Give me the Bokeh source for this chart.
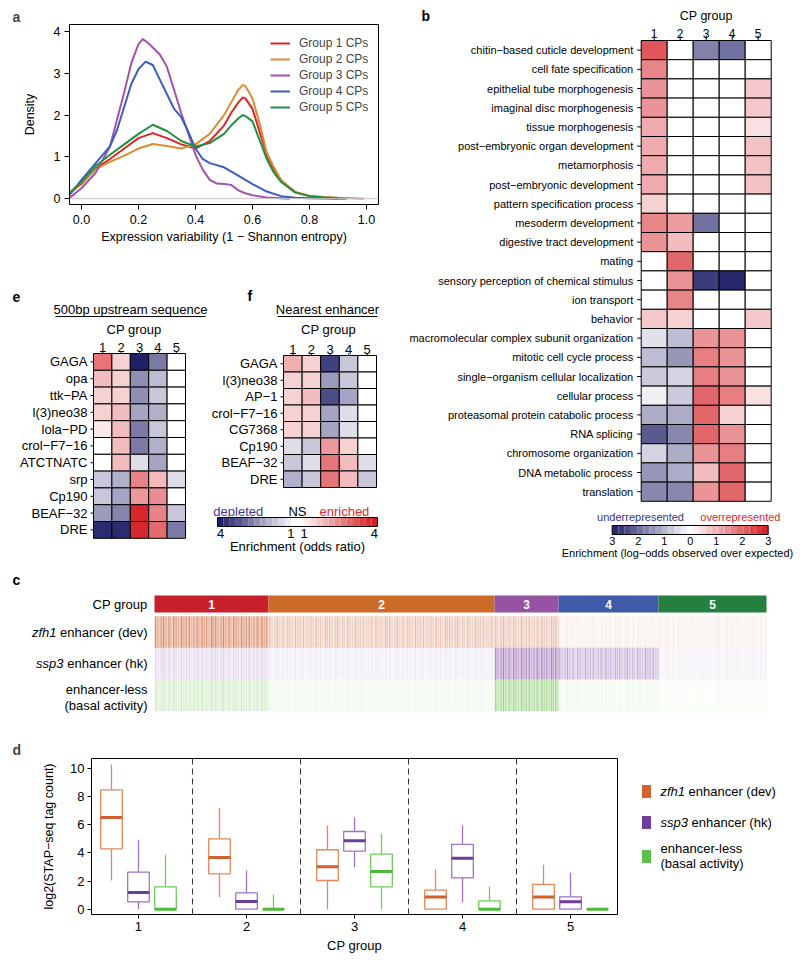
import numpy as np
from bokeh.plotting import figure
from bokeh.models import (Range1d, FixedTicker, Span, Legend, LegendItem, ColumnDataSource)
from bokeh.layouts import row, column
from bokeh.embed import file_html
from bokeh.resources import INLINE
from bokeh.core.properties import value
from bokeh.transform import linear_cmap

FONT = "Liberation Sans"

# ====================== DATA ======================
# (a) density of expression variability, per CP group
g1_x = [-0.04, 0.0, 0.05, 0.1, 0.15, 0.2, 0.25, 0.3, 0.35, 0.4, 0.45, 0.5, 0.525, 0.55, 0.565, 0.575, 0.6, 0.625, 0.65, 0.675, 0.7, 0.75, 0.8, 0.85, 0.9, 0.93]
g1_y = [0.15, 0.35, 0.72, 0.95, 1.2, 1.45, 1.57, 1.45, 1.3, 1.2, 1.38, 1.75, 2.05, 2.3, 2.42, 2.4, 2.15, 1.6, 1.05, 0.7, 0.42, 0.15, 0.06, 0.03, 0.01, 0.0]
g2_x = [-0.04, 0.0, 0.05, 0.1, 0.15, 0.2, 0.25, 0.3, 0.35, 0.4, 0.45, 0.5, 0.525, 0.55, 0.565, 0.575, 0.6, 0.625, 0.65, 0.675, 0.7, 0.75, 0.8, 0.85, 0.9, 0.95, 0.99]
g2_y = [0.15, 0.38, 0.7, 0.88, 1.03, 1.2, 1.31, 1.26, 1.2, 1.3, 1.55, 2.0, 2.3, 2.6, 2.72, 2.7, 2.4, 1.8, 1.1, 0.75, 0.45, 0.16, 0.07, 0.04, 0.02, 0.01, 0.0]
g3_x = [-0.04, 0.0, 0.05, 0.1, 0.125, 0.15, 0.175, 0.2, 0.215, 0.235, 0.25, 0.275, 0.3, 0.325, 0.35, 0.375, 0.4, 0.425, 0.45, 0.475, 0.5, 0.525, 0.55, 0.575, 0.6, 0.65, 0.7, 0.73]
g3_y = [0.03, 0.25, 0.62, 1.25, 1.9, 2.55, 3.25, 3.7, 3.82, 3.72, 3.62, 3.45, 3.15, 2.6, 2.05, 1.55, 1.05, 0.7, 0.45, 0.36, 0.35, 0.33, 0.2, 0.13, 0.08, 0.03, 0.01, 0.0]
g4_x = [-0.04, 0.0, 0.05, 0.1, 0.125, 0.15, 0.175, 0.2, 0.225, 0.25, 0.275, 0.3, 0.325, 0.35, 0.375, 0.4, 0.425, 0.45, 0.5, 0.55, 0.6, 0.65, 0.7, 0.75, 0.8, 0.9]
g4_y = [0.1, 0.45, 0.85, 1.25, 1.65, 2.2, 2.75, 3.1, 3.28, 3.2, 2.85, 2.5, 2.15, 1.95, 1.6, 1.2, 0.95, 0.85, 0.75, 0.55, 0.35, 0.17, 0.06, 0.02, 0.01, 0.0]
g5_x = [-0.04, 0.0, 0.05, 0.1, 0.15, 0.2, 0.25, 0.3, 0.35, 0.4, 0.45, 0.5, 0.525, 0.55, 0.565, 0.575, 0.6, 0.625, 0.65, 0.675, 0.7, 0.75, 0.8, 0.85, 0.9, 0.92]
g5_y = [0.15, 0.4, 0.78, 1.05, 1.3, 1.55, 1.77, 1.62, 1.38, 1.25, 1.33, 1.55, 1.75, 1.92, 2.0, 1.98, 1.85, 1.4, 0.95, 0.62, 0.4, 0.15, 0.06, 0.03, 0.01, 0.0]
a_labels = ["Group 1 CPs", "Group 2 CPs", "Group 3 CPs", "Group 4 CPs", "Group 5 CPs"]
a_colors = ["#DF2426", "#DB8B34", "#A453AC", "#3C5DBD", "#22903F"]
a_xticks = [0.0, 0.2, 0.4, 0.6, 0.8, 1.0]
a_xtick_labels = ["0.0", "0.2", "0.4", "0.6", "0.8", "1.0"]
a_yticks = [0, 1, 2, 3, 4]

cp_labels = ["1", "2", "3", "4", "5"]

# (b) GO enrichment, log-odds observed over expected
b_terms = ["chitin\u2212based cuticle development", "cell fate specification",
           "epithelial tube morphogenesis", "imaginal disc morphogenesis",
           "tissue morphogenesis", "post\u2212embryonic organ development", "metamorphosis",
           "post\u2212embryonic development", "pattern specification process",
           "mesoderm development", "digestive tract development", "mating",
           "sensory perception of chemical stimulus", "ion transport", "behavior",
           "macromolecular complex subunit organization", "mitotic cell cycle process",
           "single\u2212organism cellular localization", "cellular process",
           "proteasomal protein catabolic process", "RNA splicing",
           "chromosome organization", "DNA metabolic process", "translation"]
b_g1 = [2.2, 1.6, 1.4, 1.4, 1.1, 1.1, 1.1, 1.1, 0.6, 1.6, 1.4, 0, 0, 0, 0.7, -0.4, -0.9, -0.7, -0.2, -1.1, -2.2, -0.6, -1.4, -1.6]
b_g2 = [0, 0, 0, 0, 0, 0, 0, 0, 0, 1.3, 0.9, 2.0, 1.4, 1.6, 0.6, -0.9, -1.4, -0.6, -0.7, -1.1, -1.6, -1.1, -1.1, -1.6]
b_g3 = [-1.7, 0, 0, 0, 0, 0, 0, 0, 0, -1.9, 0, 0, -2.6, 0, 0, 1.4, 1.7, 1.7, 2.0, 2.0, 2.0, 1.4, 0.9, 1.4]
b_g4 = [-1.9, 0, 0, 0, 0, 0, 0, 0, 0, 0, 0, 0, -2.9, 0, 0, 1.4, 1.4, 1.4, 1.7, 0.6, 1.4, 1.7, 2.0, 2.0]
b_g5 = [0, 0, 0.7, 0.7, 0.4, 0.8, 0.8, 0.8, 0, 0, 0, 0, 0, 0, 0.7, 0, 0, 0, 0.4, 0, 0, 0, 0, 0]
b_cb_ticks = [-3, -2, -1, 0, 1, 2, 3]
b_cb_labels = ["3", "2", "1", "0", "1", "2", "3"]

# (e) motif enrichment, 500bp upstream (log2 odds ratio)
e_motifs = ["GAGA", "opa", "ttk\u2212PA", "l(3)neo38", "lola\u2212PD", "crol\u2212F7\u221216",
            "ATCTNATC", "srp", "Cp190", "BEAF\u221232", "DRE"]
e_g1 = [1.2, 0.6, 0.4, 0.4, 0.2, 0, 0, -0.5, -0.5, -0.9, -1.9]
e_g2 = [0.4, 0.4, 0.4, 0.6, 0.6, 0.6, 0.6, -0.7, -0.8, -1.1, -1.9]
e_g3 = [-2.0, -1.0, -1.0, -0.8, -1.2, -1.2, -0.3, 1.1, 0.9, 1.9, 1.9]
e_g4 = [-1.2, -0.6, -0.5, -0.7, -0.5, -0.7, -0.8, 0.6, 1.0, 1.1, 1.3]
e_g5 = [0, 0, 0, 0, 0, 0, 0, -0.3, 0, -0.5, -1.2]

# (f) motif enrichment, nearest enhancer (log2 odds ratio)
f_motifs = ["GAGA", "l(3)neo38", "AP\u22121", "crol\u2212F7\u221216", "CG7368", "Cp190", "BEAF\u221232", "DRE"]
f_g1 = [0.7, 0.4, 0.4, 0.4, 0.4, -0.3, -0.5, -0.7]
f_g2 = [0.4, 0.4, 0.6, 0.4, 0.4, -0.5, -0.3, -0.5]
f_g3 = [-1.7, -0.9, -1.6, -0.8, -0.8, 0.9, 1.2, 1.2]
f_g4 = [-0.5, -0.5, -0.8, -0.3, -0.3, 0.4, 0.6, 0.6]
f_g5 = [0, 0, 0, 0, 0, 0, -0.3, -0.5]
f_cb_ticks = [-1.0, -0.085, 0.085, 1.0]
f_cb_labels = ["4", "1", "1", "4"]

# (c) CP groups and reporter activity levels
c_group_sizes = [570, 1130, 320, 500, 540]
c_group_colors = ["#C8202A", "#CC6A28", "#9653A3", "#3F5BA9", "#23803F"]
c_zfh1_level = [0.7, 0.35, 0.35, 0.1, 0.1]
c_ssp3_level = [0.2, 0.1, 0.65, 0.42, 0.08]
c_basal_level = [0.25, 0.08, 0.55, 0.08, 0.04]
c_stripe_pos = [0.02, 0.06, 0.11, 0.15, 0.19, 0.24, 0.27, 0.32, 0.36, 0.40, 0.45, 0.49,
                0.53, 0.58, 0.62, 0.66, 0.71, 0.74, 0.79, 0.83, 0.87, 0.91, 0.95, 0.98]
c_stripe_str = [0.9, 0.4, 0.7, 1.0, 0.5, 0.8, 0.3, 0.9, 0.6, 0.4, 1.0, 0.5,
                0.7, 0.9, 0.3, 0.6, 0.8, 0.4, 1.0, 0.5, 0.7, 0.3, 0.9, 0.6]

# (d) log2(STAP-seq tag count) box statistics per CP group
zfh1_low = [2.04, 0.86, 0.0, 0.0, 0.0]
zfh1_q1 = [4.3, 2.52, 2.04, 0.0, 0.0]
zfh1_med = [6.53, 3.68, 3.02, 0.86, 0.86]
zfh1_q3 = [8.5, 5.01, 4.23, 1.35, 1.76]
zfh1_high = [10.3, 7.2, 5.96, 2.85, 3.16]
ssp3_low = [0.0, 0.0, 2.99, 0.5, 0.0]
ssp3_q1 = [0.52, 0.0, 4.13, 2.23, 0.0]
ssp3_med = [1.19, 0.55, 4.87, 3.63, 0.52]
ssp3_q3 = [2.64, 1.16, 5.53, 4.61, 0.88]
ssp3_high = [4.94, 2.76, 6.53, 5.96, 2.59]
basal_low = [0.0, 0.0, 0.0, 0.0, 0.0]
basal_q1 = [0.0, 0.0, 1.59, 0.0, 0.0]
basal_med = [0.0, 0.0, 2.68, 0.0, 0.0]
basal_q3 = [1.59, 0.0, 3.92, 0.59, 0.0]
basal_high = [3.87, 1.05, 5.37, 1.59, 0.0]
d_groups = [1, 2, 3, 4, 5]
d_yticks = [0, 2, 4, 6, 8, 10]
d_italic = ["zfh1", "ssp3", ""]
d_text = ["enhancer (dev)", "enhancer (hk)", "enhancer-less"]
d_line_colors = ["#E4875C", "#9C74C6", "#6CCB58"]
d_med_colors = ["#D0612E", "#6A3D9C", "#4DB83A"]
d_key_colors = ["#D4622F", "#6F3F9E", "#5DBE4A"]


# ====================== HELPERS ======================
def ramp(n):
    lo = (32, 32, 105)
    mid = (255, 255, 255)
    hi = (212, 28, 34)
    out = []
    for i in range(n):
        t = 2.0 * i / (n - 1) - 1.0
        end = lo if t < 0 else hi
        a = abs(t)
        out.append("#%02x%02x%02x" % tuple(int(round(mid[k] + (end[k] - mid[k]) * a)) for k in range(3)))
    return out


PAL = ramp(255)


def px_ranges(fx0, fy0, w, h, x_ref_px, x_ref_val, sx, y_ref_px, y_ref_val, sy, y_down=True):
    xr = Range1d(x_ref_val + (fx0 - x_ref_px) / sx, x_ref_val + (fx0 + w - x_ref_px) / sx)
    if y_down:
        yr = Range1d(y_ref_val + (fy0 + h - y_ref_px) / sy, y_ref_val + (fy0 - y_ref_px) / sy)
    else:
        yr = Range1d(y_ref_val - (fy0 + h - y_ref_px) / sy, y_ref_val - (fy0 - y_ref_px) / sy)
    return xr, yr


def canvas(w, h, xr, yr, **borders):
    opts = dict(min_border=0)
    opts.update(borders)
    p = figure(width=w, height=h, x_range=xr, y_range=yr, output_backend="svg",
               toolbar_location=None, x_axis_location=None, y_axis_location=None, **opts)
    p.outline_line_color = None
    p.xgrid.visible = False
    p.ygrid.visible = False
    return p


def style_axis(ax, size="13px", tick_out=4, standoff=3, label_size=None, label_standoff=5):
    ax.major_label_text_font = FONT
    ax.major_label_text_font_size = size
    ax.major_label_text_color = "black"
    ax.major_tick_out = tick_out
    ax.major_tick_in = 0
    ax.minor_tick_out = 0
    ax.minor_tick_in = 0
    ax.major_label_standoff = standoff
    ax.axis_label_text_font = FONT
    ax.axis_label_text_font_size = label_size or size
    ax.axis_label_text_font_style = "normal"
    ax.axis_label_text_color = "black"
    ax.axis_label_standoff = label_standoff
    ax.axis_line_color = None
    ax.major_tick_line_color = "black"


def heat_cells(p, cols, low, high, **kw):
    xs, ys, vs = [], [], []
    for ci, vals in enumerate(cols):
        for ri, v in enumerate(vals):
            xs.append(ci + 1)
            ys.append(ri)
            vs.append(v)
    src = ColumnDataSource(dict(x=xs, y=ys, v=vs))
    p.rect(x="x", y="y", width=1, height=1, source=src,
           fill_color=linear_cmap("v", PAL, low, high), line_color="black", line_width=1, **kw)


def txt(p, x, y, text, size="13px", align="center", baseline="middle", color="black",
        style="normal", **kw):
    p.text(x=x, y=y, text=text, text_font=value(FONT), text_font_size=size,
           text_align=align, text_baseline=baseline, text_color=color,
           text_font_style=style, **kw)


def heat_labels(p, names, sx, sy, size, tick_len_x, tick_len_y, lab_off, col_off, col_size):
    n = len(names)
    txt(p, [0.5] * n, list(range(n)), names, size=size, align="right", x_offset=lab_off)
    p.segment(x0=[0.5 - tick_len_x / sx] * n, y0=list(range(n)), x1=[0.5] * n,
              y1=list(range(n)), line_color="black", line_width=1)
    txt(p, [1, 2, 3, 4, 5], [-0.5] * 5, cp_labels, size=col_size, baseline="bottom",
        y_offset=col_off)
    p.segment(x0=[1, 2, 3, 4, 5], y0=[-0.5 - tick_len_y / sy] * 5, x1=[1, 2, 3, 4, 5],
              y1=[-0.5] * 5, line_color="black", line_width=1)


# ====================== PANEL a ======================
pa = figure(width=408, height=258, x_range=Range1d(-0.042, 1.042), y_range=Range1d(-0.14, 4.17),
            min_border_left=69, min_border_right=30, min_border_top=24, min_border_bottom=54,
            output_backend="svg", toolbar_location=None)
pa.xgrid.visible = False
pa.ygrid.visible = False
pa.outline_line_color = "black"
pa.xaxis.ticker = FixedTicker(ticks=a_xticks)
pa.xaxis.major_label_overrides = {t: s for t, s in zip(a_xticks, a_xtick_labels)}
pa.yaxis.ticker = FixedTicker(ticks=a_yticks)
pa.xaxis.axis_label = "Expression variability (1 \u2212 Shannon entropy)"
pa.yaxis.axis_label = "Density"
for ax in pa.xaxis:
    style_axis(ax, "12.5px", tick_out=5, standoff=5, label_standoff=3)
for ax in pa.yaxis:
    style_axis(ax, "12.5px", tick_out=5, standoff=4, label_standoff=14)
pa.add_layout(Span(location=0, dimension="width", line_color="#c4c4c4", line_width=1))
items = []
for xs_, ys_, c, lab in zip([g1_x, g2_x, g3_x, g4_x, g5_x], [g1_y, g2_y, g3_y, g4_y, g5_y],
                            a_colors, a_labels):
    r = pa.line(xs_, ys_, line_color=c, line_width=2, line_join="round")
    items.append(LegendItem(label=lab, renderers=[r]))
leg = Legend(items=items, location=(201, 89), margin=0, padding=7, spacing=0,
             label_height=16, glyph_height=16, glyph_width=20, label_standoff=9,
             label_width=72, label_text_font=FONT, label_text_font_size="12px",
             border_line_color=None, background_fill_alpha=0)
pa.add_layout(leg)
pa.title.text = "a"
pa.title.align = "left"
pa.title.offset = -57
pa.title.standoff = 0
pa.title.text_font = FONT
pa.title.text_font_size = "14px"
pa.title.text_font_style = "bold"

# ====================== PANEL b (with its colour key) ======================
xr, yr = px_ranges(408, 0, 392, 560, 640.7, 0.5, 26.0, 40, -0.5, 19.2)
pb = canvas(392, 560, xr, yr)
heat_cells(pb, [b_g1, b_g2, b_g3, b_g4, b_g5], -3, 3)
heat_labels(pb, b_terms, 26.0, 19.2, "11px", 4, 5, -8, -3, "12px")
txt(pb, [3.0], [-1.8], ["CP group"], size="12.5px")
txt(pb, [-7.95], [-1.8], ["b"], size="14px", align="left", style="bold")
bxr, byr = px_ranges(408, 0, 392, 560, 689.7, 0.0, 26.0, 534, 0.0, 9.0, y_down=False)
pb.extra_x_ranges = {"cbx": bxr}
pb.extra_y_ranges = {"cby": byr}
kw = dict(x_range_name="cbx", y_range_name="cby")
nsteps = 25
stp = 6.0 / nsteps
cbx = [-3 + (i + 0.5) * stp for i in range(nsteps)]
src_b = ColumnDataSource(dict(x=cbx, y=[0.5] * nsteps, v=cbx))
pb.rect(x="x", y="y", width=stp, height=1, source=src_b,
        fill_color=linear_cmap("v", PAL, -3, 3), line_color=None, **kw)
pb.rect(x=0, y=0.5, width=6, height=1, fill_color=None, line_color="black", line_width=1, **kw)
txt(pb, [-1.91], [1.89], ["underrepresented"], size="11px", color="#34348E", **kw)
txt(pb, [1.93], [1.89], ["overrepresented"], size="11px", color="#E3262E", **kw)
txt(pb, b_cb_ticks, [-0.7] * len(b_cb_ticks), b_cb_labels, size="11px", **kw)
txt(pb, [-0.49], [-2.0], ["Enrichment (log\u2212odds observed over expected)"], size="11px", **kw)

# ====================== PANEL e ======================
xr, yr = px_ranges(0, 258, 208, 302, 93, 0.5, 18.4, 353, -0.5, 16.8)
pe = canvas(208, 302, xr, yr)
heat_cells(pe, [e_g1, e_g2, e_g3, e_g4, e_g5], -2, 2)
heat_labels(pe, e_motifs, 18.4, 16.8, "13px", 3, 2, -6, -2, "13px")
txt(pe, [2.7], [-1.93], ["CP group"])
txt(pe, [2.51], [-3.12], ["500bp upstream sequence"])
pe.segment(x0=[-1.565], y0=[-2.70], x1=[6.587], y1=[-2.70], line_color="black", line_width=1)
txt(pe, [-3.9], [-3.89], ["e"], size="14px", align="left", style="bold")

# ====================== PANEL f (with the e/f colour key) ======================
xr, yr = px_ranges(208, 258, 200, 302, 283, 0.5, 18.6, 355, -0.5, 16.5)
pf = canvas(200, 302, xr, yr)
heat_cells(pf, [f_g1, f_g2, f_g3, f_g4, f_g5], -2, 2)
heat_labels(pf, f_motifs, 18.6, 16.5, "13px", 3, 2, -6, -2, "13px")
txt(pf, [2.92], [-2.076], ["CP group"])
txt(pf, [2.866], [-3.288], ["Nearest enhancer"])
pf.segment(x0=[0.177], y0=[-2.864], x1=[5.554], y1=[-2.864], line_color="black", line_width=1)
txt(pf, [-1.435], [-4.076], ["f"], size="14px", align="left", style="bold")
cxr, cyr = px_ranges(208, 258, 200, 302, 297, 0.0, 76.9, 526, 0.0, 9.0, y_down=False)
pf.extra_x_ranges = {"cbx": cxr}
pf.extra_y_ranges = {"cby": cyr}
nside = 12
w_side = (1.04 - 0.085) / nside
cb_u, cb_v = [], []
for i in range(nside):
    cb_u.append(-1.04 + (i + 0.5) * w_side)
    cb_v.append(-2.0 * (1 - i / nside))
    cb_u.append(1.04 - (i + 0.5) * w_side)
    cb_v.append(2.0 * (1 - i / nside))
src_cb = ColumnDataSource(dict(x=cb_u, y=[0.5] * len(cb_u), v=cb_v))
pf.rect(x="x", y="y", width=w_side, height=1, source=src_cb,
        fill_color=linear_cmap("v", PAL, -2, 2), line_color=None, **kw)
pf.rect(x=0, y=0.5, width=2.08, height=1, fill_color=None, line_color="black", line_width=1, **kw)
txt(pf, [-0.77], [1.67], ["depleted"], color="#3A3A96", **kw)
txt(pf, [0.0], [1.67], ["NS"], **kw)
txt(pf, [0.61], [1.67], ["enriched"], color="#E3262F", **kw)
txt(pf, f_cb_ticks, [-0.8] * 4, f_cb_labels, **kw)
txt(pf, [0.0], [-2.22], ["Enrichment (odds ratio)"], **kw)

# ====================== PANEL c ======================
ntot = sum(c_group_sizes)
sc = 612.0 / ntot
xr, yr = px_ranges(0, 560, 800, 160, 154, 0.0, sc, 631.5, 0.0, 31.7)
pc = canvas(800, 160, xr, yr)
starts = [sum(c_group_sizes[:i]) for i in range(5)]
centers = [s + n / 2 for s, n in zip(starts, c_group_sizes)]
pc.rect(x=centers, y=-0.883, width=c_group_sizes, height=0.536, fill_color=c_group_colors,
        line_color=None)
txt(pc, centers, [-0.883] * 5, cp_labels, size="12px", color="white", style="bold")
row_cols = ["#D2693C", "#8E5AAE", "#6CBF4A"]
tile = 300
for ri, (levels, col) in enumerate(zip([c_zfh1_level, c_ssp3_level, c_basal_level], row_cols)):
    pc.rect(x=centers, y=ri, width=c_group_sizes, height=1, fill_color=col,
            fill_alpha=[lv * 0.45 for lv in levels], line_color=None)
    sx_, sa_ = [], []
    for g in range(5):
        k = 0
        while k * tile < c_group_sizes[g]:
            for fpos, fstr in zip(c_stripe_pos, c_stripe_str):
                xx = starts[g] + k * tile + fpos * tile
                if xx < starts[g] + c_group_sizes[g]:
                    sx_.append(xx)
                    sa_.append(min(1.0, levels[g] * fstr))
            k += 1
    pc.vbar(x=sx_, width=1.2 / sc, bottom=ri - 0.5, top=ri + 0.5, fill_color=col,
            fill_alpha=sa_, line_color=None)
lx = -7 / sc
txt(pc, [lx], [-0.883], ["CP group"], align="right")
txt(pc, [lx], [0], ["enhancer (dev)"], align="right")
txt(pc, [lx], [0], ["zfh1"], align="right", style="italic", x_offset=-91)
txt(pc, [lx], [1], ["enhancer (hk)"], align="right")
txt(pc, [lx], [1], ["ssp3"], align="right", style="italic", x_offset=-84)
txt(pc, [lx], [1.81], ["enhancer-less"], align="right")
txt(pc, [lx], [2.32], ["(basal activity)"], align="right")
txt(pc, [-142 / sc], [-1.625], ["c"], size="14px", align="left", style="bold")

# ====================== PANEL d ======================
pd_ = figure(width=638, height=243, x_range=Range1d(0.565, 5.435), y_range=Range1d(-0.38, 10.73),
             min_border_left=91, min_border_right=21, min_border_top=38, min_border_bottom=49,
             output_backend="svg", toolbar_location=None)
pd_.xgrid.visible = False
pd_.ygrid.visible = False
pd_.outline_line_color = "black"
pd_.xaxis.ticker = FixedTicker(ticks=d_groups)
pd_.yaxis.ticker = FixedTicker(ticks=d_yticks)
pd_.xaxis.axis_label = "CP group"
pd_.yaxis.axis_label = "log2(STAP\u2212seq tag count)"
for ax in pd_.xaxis:
    style_axis(ax, "13px", tick_out=4, standoff=3, label_standoff=4)
for ax in pd_.yaxis:
    style_axis(ax, "13px", tick_out=4, standoff=3, label_size="12.5px", label_standoff=11)
for k in range(1, 5):
    pd_.add_layout(Span(location=k + 0.5, dimension="height", line_color="#333333",
                        line_width=1, line_dash="6 4"))
series = [(zfh1_low, zfh1_q1, zfh1_med, zfh1_q3, zfh1_high),
          (ssp3_low, ssp3_q1, ssp3_med, ssp3_q3, ssp3_high),
          (basal_low, basal_q1, basal_med, basal_q3, basal_high)]
for si, (lo_, q1_, md_, q3_, hi_) in enumerate(series):
    xs_ = [g + (si - 1) * 0.25 for g in d_groups]
    pd_.segment(x0=xs_, y0=q3_, x1=xs_, y1=hi_, line_color=d_line_colors[si], line_width=1.3)
    pd_.segment(x0=xs_, y0=lo_, x1=xs_, y1=q1_, line_color=d_line_colors[si], line_width=1.3)
    pd_.vbar(x=xs_, width=0.2, bottom=q1_, top=q3_, fill_color="white",
             line_color=d_line_colors[si], line_width=1.3)
    pd_.segment(x0=[x - 0.1 for x in xs_], y0=md_, x1=[x + 0.1 for x in xs_], y1=md_,
                line_color=d_med_colors[si], line_width=3)
pd_.title.text = "d"
pd_.title.align = "left"
pd_.title.offset = -79
pd_.title.standoff = 1
pd_.title.text_font = FONT
pd_.title.text_font_size = "14px"
pd_.title.text_font_style = "bold"

# legend for d (frame aligned with the d panel frame: 38 px top, 49 px bottom)
pdl = canvas(162, 243, Range1d(0, 162), Range1d(194, 38),
             min_border_top=38, min_border_bottom=49)
key_y = [71, 102, 136]
pdl.rect(x=[8] * 3, y=key_y, width=9, height=13, width_units="screen", height_units="screen",
         fill_color=d_key_colors, line_color=None)
txt(pdl, [22, 22], key_y[:2], d_italic[:2], align="left", style="italic")
txt(pdl, [22], [key_y[0]], [d_text[0]], align="left", x_offset=28)
txt(pdl, [22], [key_y[1]], [d_text[1]], align="left", x_offset=31)
txt(pdl, [22], [128], [d_text[2]], align="left")
txt(pdl, [22], [143], ["(basal activity)"], align="left")

# ====================== LAYOUT ======================
top_left = column(pa, row(pe, pf))
page = column(row(top_left, pb), pc, row(pd_, pdl))

open("out.html", "w").write(file_html(page, INLINE, title="figure"))
